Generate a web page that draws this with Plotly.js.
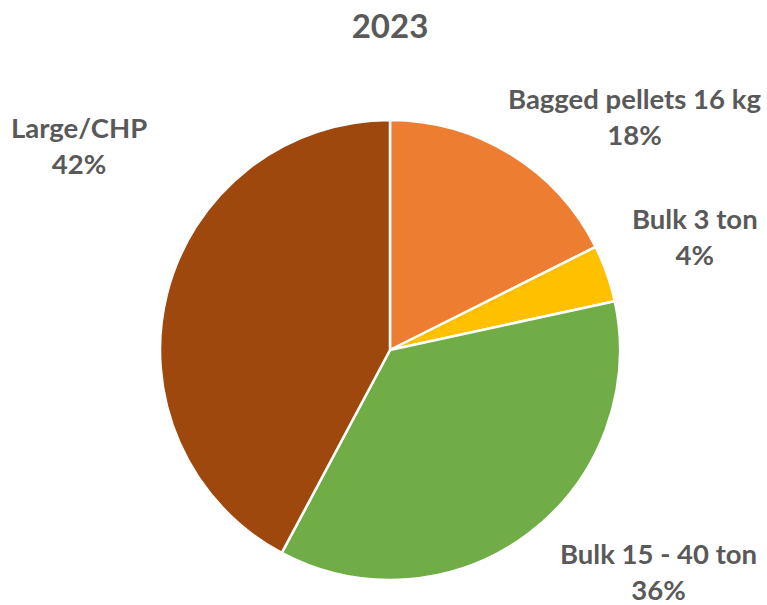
<!DOCTYPE html>
<html>
<head>
<meta charset="utf-8">
<script src="https://cdn.plot.ly/plotly-3.0.1.min.js"></script>
<style>html,body{margin:0;padding:0;background:#fff;}#chart{width:767px;height:605px;}</style>
</head>
<body>
<div id="chart"></div>
<script>
const categories = ["Bagged pellets 16 kg", "Bulk 3 ton", "Bulk 15 - 40 ton", "Large/CHP"];
const shares = [17.6, 4.0, 36.2, 42.2];
const sliceColors = ["#ED7D31", "#FFC000", "#70AD47", "#9E480E"];
const chartTitle = "2023";
// label anchor points in pixel space (layout only)
const labelPx = [[634, 117], [695, 236], [658, 571], [79, 145]];

const W = 767, H = 605;
const cx = 390, cy = 350, r = 230;
const total = shares.reduce((a, b) => a + b, 0);

const annotations = categories.map((c, i) => ({
  xref: "paper", yref: "paper",
  x: labelPx[i][0] / W, y: 1 - labelPx[i][1] / H,
  xanchor: "center", yanchor: "middle",
  text: c + "<br>" + Math.round(shares[i] / total * 100) + "%",
  showarrow: false, align: "center",
  font: {family: "Lato, 'Open Sans', sans-serif", size: 27.5, color: "#595959", weight: 700}
}));

Plotly.newPlot("chart", [{
  type: "pie",
  labels: categories,
  values: shares,
  sort: false,
  direction: "clockwise",
  rotation: 0,
  textinfo: "none",
  hoverinfo: "label+percent",
  marker: {colors: sliceColors, line: {color: "#ffffff", width: 2.5}},
  domain: {x: [(cx - r) / W, (cx + r) / W], y: [(H - cy - r) / H, (H - cy + r) / H]},
  showlegend: false
}], {
  width: W, height: H,
  margin: {l: 0, r: 0, t: 0, b: 0},
  paper_bgcolor: "#ffffff",
  showlegend: false,
  title: {text: chartTitle, x: cx / W, xanchor: "center", y: 1 - 26 / H, yanchor: "middle",
    font: {family: "Lato, 'Open Sans', sans-serif", size: 33, color: "#595959", weight: 700}},
  annotations: annotations
}, {displayModeBar: false, staticPlot: true});
</script>
</body>
</html>
